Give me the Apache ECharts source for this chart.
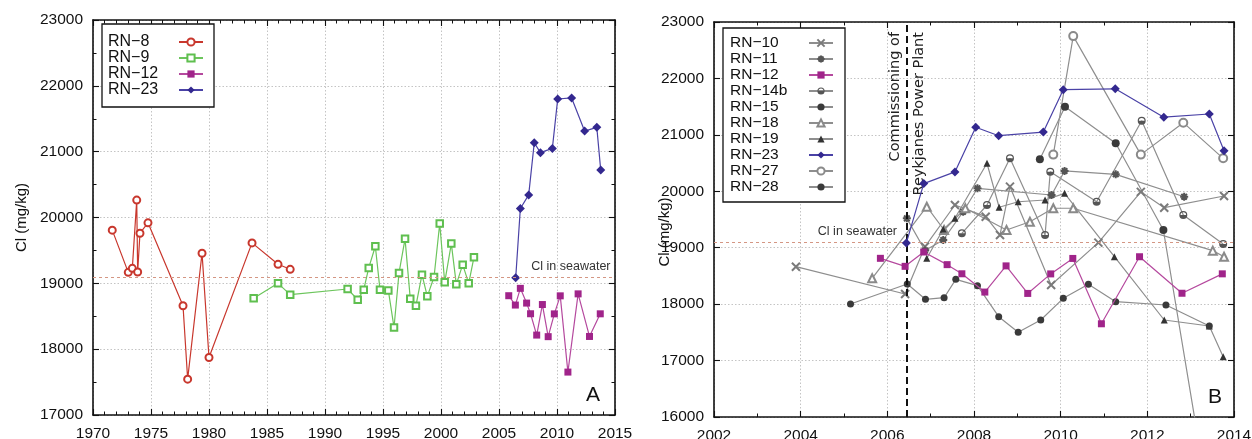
<!DOCTYPE html>
<html>
<head>
<meta charset="utf-8">
<script src="https://cdn.jsdelivr.net/npm/echarts@6/dist/echarts.min.js"></script>
<style>
  html, body { margin: 0; padding: 0; background: #fff; }
  #chart { width: 1252px; height: 439px; }
</style>
</head>
<body>
<div id="chart"></div>
<script>
// ---- Panel A: chloride in RN wells, 1970-2015 ----
const rn8 = [[1971.66,19808],[1973.04,19167],[1973.39,19228],[1973.77,20264],[1973.85,19173],[1974.05,19761],[1974.74,19919],[1977.76,18660],[1978.16,17544],[1979.40,19457],[1980.00,17873],[1983.71,19614],[1985.95,19289],[1987.00,19213]];
const rn9 = [[1983.85,18772],[1985.95,19000],[1987.00,18828],[1991.95,18914],[1992.82,18751],[1993.34,18904],[1993.77,19234],[1994.34,19563],[1994.74,18904],[1995.46,18893],[1995.95,18330],[1996.38,19158],[1996.90,19676],[1997.35,18767],[1997.84,18660],[1998.36,19132],[1998.82,18802],[1999.40,19097],[1999.89,19909],[2000.32,19015],[2000.89,19604],[2001.32,18985],[2001.87,19284],[2002.39,19000],[2002.84,19396]];
const rn12 = [[2005.84,18812],[2006.41,18670],[2006.84,18924],[2007.38,18700],[2007.72,18538],[2008.25,18214],[2008.74,18678],[2009.24,18190],[2009.77,18536],[2010.28,18810],[2010.94,17652],[2011.82,18840],[2012.80,18193],[2013.73,18537]];
const rn23 = [[2006.44,19085],[2006.84,20136],[2007.56,20343],[2008.04,21135],[2008.57,20985],[2009.60,21050],[2010.06,21800],[2011.26,21816],[2012.38,21313],[2013.43,21370],[2013.77,20720]];

// ---- Panel B: wells around the Reykjanes power plant ----
const rn10 = [[2003.89,18664],[2006.41,18180],[2006.87,19020],[2007.56,19757],[2008.27,19550],[2008.60,19226],[2008.83,20082],[2009.78,18340],[2010.87,19090],[2011.85,19990],[2012.39,19709],[2013.77,19917]];
const rn11 = [[2006.45,19520],[2006.87,18950],[2007.29,19137],[2007.75,19638],[2008.08,20053],[2009.79,19934],[2010.09,20360],[2011.27,20300],[2012.85,19904]];
const rn14b = [[2007.72,19255],[2008.30,19757],[2008.83,20585],[2009.64,19226],[2009.76,20347],[2010.83,19815],[2011.87,21250],[2012.83,19580],[2013.75,19066]];
const rn15 = [[2009.52,20567],[2010.10,21499],[2011.27,20850],[2012.37,19314],[2013.50,14100]];
const rn18 = [[2005.65,18458],[2006.91,19727],[2007.31,19314],[2007.80,19700],[2008.75,19314],[2009.29,19461],[2009.83,19699],[2010.29,19699],[2013.51,18948],[2013.77,18841]];
const rn19 = [[2006.91,18813],[2007.29,19326],[2007.56,19521],[2008.30,20496],[2008.58,19717],[2009.02,19815],[2009.64,19846],[2010.09,19964],[2011.24,18841],[2012.39,17719],[2013.43,17613],[2013.75,17069]];
const rn27 = [[2009.83,20650],[2010.29,22750],[2011.85,20650],[2012.83,21216],[2013.75,20584]];
const rn28 = [[2005.15,18003],[2006.46,18357],[2006.88,18086],[2007.31,18114],[2007.58,18440],[2008.08,18327],[2008.57,17778],[2009.02,17501],[2009.54,17719],[2010.06,18103],[2010.64,18352],[2011.27,18044],[2012.43,17985],[2013.43,17613]];

// reference levels and annotations
const seawaterCl = [19100];
const commissioningYear = [2006.45];
const seawaterLabelAt = [2011.2, 2005.31];

// axis ranges: [min, max, interval]
const xRangeA = [1970, 2015, 5];
const yRangeA = [17000, 23000, 1000];
const xRangeB = [2002, 2014, 2];
const yRangeB = [16000, 23000, 1000];

const FONT = 'Liberation Sans';
const MINUS = '\u2212';
const nm = s => s.replace('-', MINUS);

const symCross = 'emptyPath://M0,0L10,10M10,0L0,10';
const symStar = 'emptyPath://M0,5L10,5M5,0L5,10M1.5,1.5L8.5,8.5M8.5,1.5L1.5,8.5';
const symHalf = 'path://M0,5A5,5 0 1,1 10,5A5,5 0 1,1 0,5ZM1.5,5A3.5,3.5 0 1,0 8.5,5A3.5,3.5 0 1,0 1.5,5ZM1.5,5A3.5,3.5 0 0,0 8.5,5Z';

function axisX(grid, r, pos, main, minorSplit) {
  return {
    type: 'value', gridIndex: grid, position: pos, min: r[0], max: r[1], interval: r[2],
    axisLine: { show: true, onZero: false, lineStyle: { color: '#111', width: 1.6 } },
    axisTick: { show: true, inside: true, length: 6, lineStyle: { color: '#111', width: 1.1 } },
    minorTick: { show: true, splitNumber: minorSplit, length: 3.5, lineStyle: { color: '#111', width: 1 } },
    axisLabel: { show: main, margin: 11, color: '#111', fontSize: 15.5, fontFamily: FONT, formatter: v => String(v) },
    splitLine: { show: main, lineStyle: { color: '#c4c4c4', type: [1.5, 2], width: 1 } }
  };
}
function axisY(grid, r, pos, main, minorSplit, nameGap, shift) {
  const a = {
    type: 'value', gridIndex: grid, position: pos, min: r[0], max: r[1], interval: r[2],
    axisLine: { show: true, onZero: false, lineStyle: { color: '#111', width: 1.6 } },
    axisTick: { show: true, inside: true, length: 6, lineStyle: { color: '#111', width: 1.1 } },
    minorTick: { show: minorSplit > 1, splitNumber: minorSplit, length: 3.5, lineStyle: { color: '#111', width: 1 } },
    axisLabel: { show: main, margin: 10, color: '#111', fontSize: 15.5, fontFamily: FONT, formatter: v => String(v) },
    splitLine: { show: main, lineStyle: { color: '#c4c4c4', type: [1.5, 2], width: 1 } }
  };
  if (main) {
    a.name = 'Cl (mg/kg)';
    a.nameLocation = 'middle';
    a.nameGap = nameGap;
    a.nameMoveOverlap = false;
    a.nameTextStyle = { color: '#111', fontSize: 15, fontFamily: FONT, padding: [0, shift || 0, 0, 0] };
  }
  return a;
}

function line(name, data, gi, color, lineColor, symbol, size, extra) {
  return Object.assign({
    type: 'line', name: nm(name), data: data,
    xAxisIndex: gi * 2, yAxisIndex: gi * 2,
    symbol: symbol, symbolSize: size, symbolKeepAspect: true,
    itemStyle: { color: color, borderWidth: 1.2 },
    lineStyle: { color: lineColor, width: 1.2 },
    emphasis: { disabled: true },
    animation: false, clip: true
  }, extra || {});
}

const gray = '#8e8e8e';

const seriesA = [
  line('RN-8', rn8, 0, '#c8372d', '#c8372d', 'emptyCircle', 7),
  line('RN-9', rn9, 0, '#5fbf4f', '#6cc55c', 'emptyRect', 6.5),
  line('RN-12', rn12, 0, '#a0248a', '#b5499e', 'rect', 7),
  line('RN-23', rn23, 0, '#33288f', '#4a42a6', 'diamond', 9, {
    markLine: {
      silent: true, symbol: 'none', animation: false,
      lineStyle: { color: '#d49683', type: [3, 3], width: 1.2 },
      label: { show: false },
      data: [{ yAxis: seawaterCl[0] }]
    },
    markPoint: {
      silent: true, symbol: 'circle', symbolSize: 0, animation: false,
      label: { show: true, position: 'top', distance: 4, formatter: 'Cl in seawater', color: '#333', fontSize: 12.5, fontFamily: FONT },
      data: [{ coord: [seawaterLabelAt[0], seawaterCl[0]] }]
    }
  })
];

const seriesB = [
  line('RN-10', rn10, 1, '#7a7a7a', gray, symCross, 8),
  line('RN-11', rn11, 1, '#555', gray, symStar, 8),
  line('RN-12', rn12, 1, '#a0248a', '#b5499e', 'rect', 7, { z: 5 }),
  line('RN-14b', rn14b, 1, '#555', gray, symHalf, 8),
  line('RN-15', rn15, 1, '#3a3a3a', gray, 'circle', 8),
  line('RN-18', rn18, 1, '#8a8a8a', gray, 'emptyTriangle', 8),
  line('RN-19', rn19, 1, '#333', gray, 'triangle', 7),
  line('RN-23', rn23, 1, '#33288f', '#4a42a6', 'diamond', 9, { z: 6 }),
  line('RN-27', rn27, 1, '#8a8a8a', gray, 'emptyCircle', 8),
  line('RN-28', rn28, 1, '#3a3a3a', gray, 'circle', 7, {
    markLine: {
      silent: true, symbol: 'none', animation: false,
      data: [
        { yAxis: seawaterCl[0], lineStyle: { color: '#d49683', type: [3, 3], width: 1.2 }, label: { show: false } },
        { xAxis: commissioningYear[0], lineStyle: { color: '#111', type: [7, 4], width: 2 },
          label: { show: true, position: 'insideEnd', distance: 10, formatter: 'Commissioning of\nReykjanes Power Plant',
                   color: '#222', fontSize: 14.5, lineHeight: 24, fontFamily: 'DejaVu Sans' } }
      ]
    },
    markPoint: {
      silent: true, symbol: 'circle', symbolSize: 0, animation: false,
      label: { show: true, position: 'top', distance: 4, formatter: 'Cl in seawater', color: '#333', fontSize: 12.5, fontFamily: FONT },
      data: [{ coord: [seawaterLabelAt[1], seawaterCl[0]] }]
    }
  })
];

const legendCommon = {
  orient: 'vertical', align: 'right', itemGap: 0, itemWidth: 24, itemHeight: 9,
  backgroundColor: '#fff', borderColor: '#111', borderWidth: 1.3, borderRadius: 0,
  selectedMode: false
};

const option = {
  backgroundColor: '#fff',
  animation: false,
  textStyle: { fontFamily: FONT },
  grid: [
    { left: 93, right: 637, top: 20, bottom: 24, outerBoundsMode: 'none' },
    { left: 714, right: 18, top: 22, bottom: 22, outerBoundsMode: 'none' }
  ],
  xAxis: [
    axisX(0, xRangeA, 'bottom', true, 5),
    axisX(0, xRangeA, 'top', false, 5),
    axisX(1, xRangeB, 'bottom', true, 2),
    axisX(1, xRangeB, 'top', false, 2)
  ],
  yAxis: [
    axisY(0, yRangeA, 'left', true, 2, 64, 0),
    axisY(0, yRangeA, 'right', false, 2),
    axisY(1, yRangeB, 'left', true, 1, 42, 25),
    axisY(1, yRangeB, 'right', false, 1)
  ],
  legend: [
    Object.assign({}, legendCommon, {
      left: 102, top: 24, padding: [10, 10, 9, 6],
      data: ['RN-8', 'RN-9', 'RN-12', 'RN-23'].map(nm),
      formatter: n => '{t|' + n + '}',
      textStyle: { rich: { t: { width: 66, align: 'left', fontSize: 16, lineHeight: 15.5, color: '#111', fontFamily: FONT } } }
    }),
    Object.assign({}, legendCommon, {
      left: 723, top: 28, padding: [7, 11, 7, 7],
      data: ['RN-10', 'RN-11', 'RN-12', 'RN-14b', 'RN-15', 'RN-18', 'RN-19', 'RN-23', 'RN-27', 'RN-28'].map(nm),
      formatter: n => '{t|' + n + '}',
      textStyle: { rich: { t: { width: 74, align: 'left', fontSize: 15.5, lineHeight: 16, color: '#111', fontFamily: FONT } } }
    })
  ],
  title: [
    { text: 'A', left: 586, top: 385, padding: 0, textStyle: { fontSize: 21, fontWeight: 'normal', color: '#111', fontFamily: FONT } },
    { text: 'B', left: 1208, top: 387, padding: 0, textStyle: { fontSize: 21, fontWeight: 'normal', color: '#111', fontFamily: FONT } }
  ],
  series: seriesA.concat(seriesB)
};

const chart = echarts.init(document.getElementById('chart'), null, { renderer: 'canvas' });
chart.setOption(option);
</script>
</body>
</html>
